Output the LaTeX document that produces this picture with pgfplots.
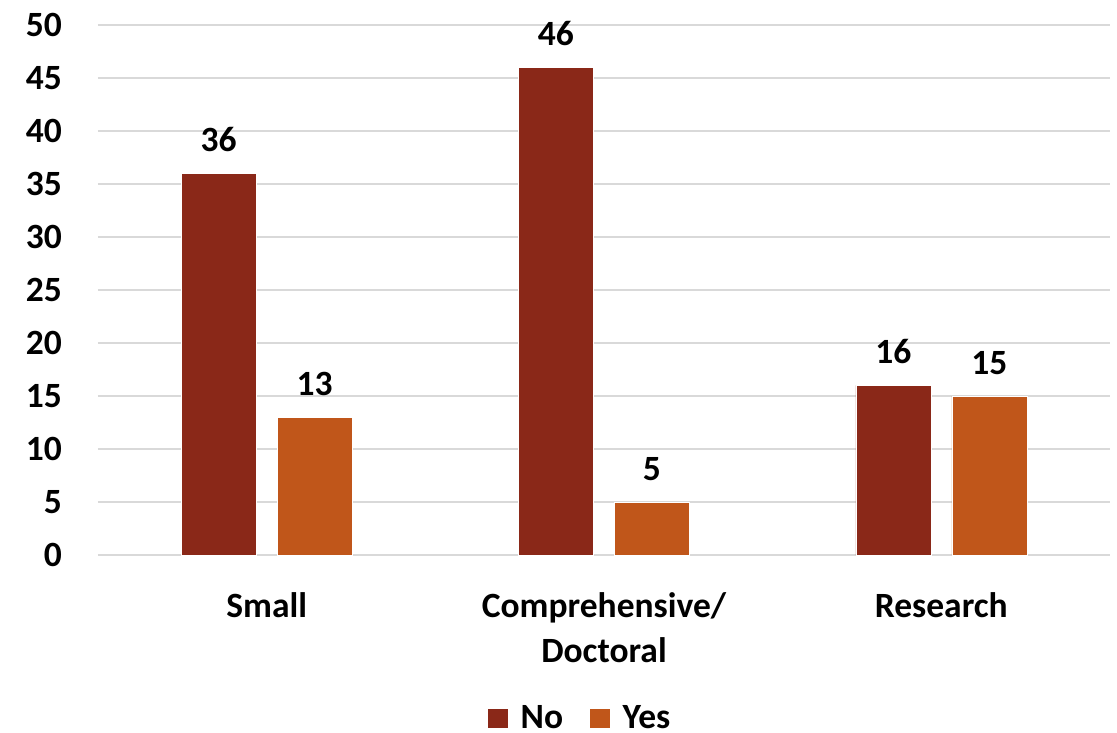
\documentclass[border=0pt]{standalone}
\usepackage{pgfplots}
\pgfplotsset{compat=1.18}
\usepackage{fontspec}
\setmainfont{Carlito}
\definecolor{nored}{HTML}{8A2818}
\definecolor{yesorange}{HTML}{C0561A}
\definecolor{gridgray}{HTML}{D9D9D9}
\begin{document}
\begin{tikzpicture}
  \begin{axis}[
    scale only axis, width=1012pt, height=530pt,
    xmin=-0.5, xmax=2.5, ymin=0, ymax=50,
    ytick={0,5,...,50},
    xtick={0,1,2},
    xticklabels={Small, {Comprehensive/\\Doctoral}, Research},
    axis line style={draw=none},
    major tick length=0pt,
    ymajorgrids, grid style={gridgray, line width=1.5pt},
    /pgf/number format/assume math mode=true,
    font=\fontsize{35.5}{45}\selectfont\bfseries,
    yticklabel style={inner sep=0pt, xshift=-36pt, anchor=east},
    xticklabel style={inner sep=0pt, align=center, anchor=north, yshift=-37pt},
    ybar, bar width=75pt,
    nodes near coords,
    every node near coord/.append style={inner sep=0pt, anchor=south, yshift=21pt, black},
    legend style={draw=none, at={(axis description cs:0.476,-0.3075)}, anchor=center,
      legend columns=-1,
      /tikz/every odd column/.append style={column sep=10pt},
      /tikz/every even column/.append style={column sep=24pt},
      legend cell align=left, inner sep=0pt},
    legend image code/.code={\fill[#1] (0pt,-10pt) rectangle (21pt,10pt);},
  ]
    \addplot[fill=nored, draw=white, line width=0.6pt, bar shift=-48pt] coordinates {(0,36) (1,46) (2,16)};
    \addplot[fill=yesorange, draw=white, line width=0.6pt, bar shift=48pt] coordinates {(0,13) (1,5) (2,15)};
    \legend{No, Yes}
    \coordinate (o) at (rel axis cs:0,0);
  \end{axis}
  \pgfresetboundingbox
  \path[use as bounding box] ([shift={(-98pt,-177pt)}]o) rectangle ([shift={(1019pt,555pt)}]o);
\end{tikzpicture}
\end{document}
